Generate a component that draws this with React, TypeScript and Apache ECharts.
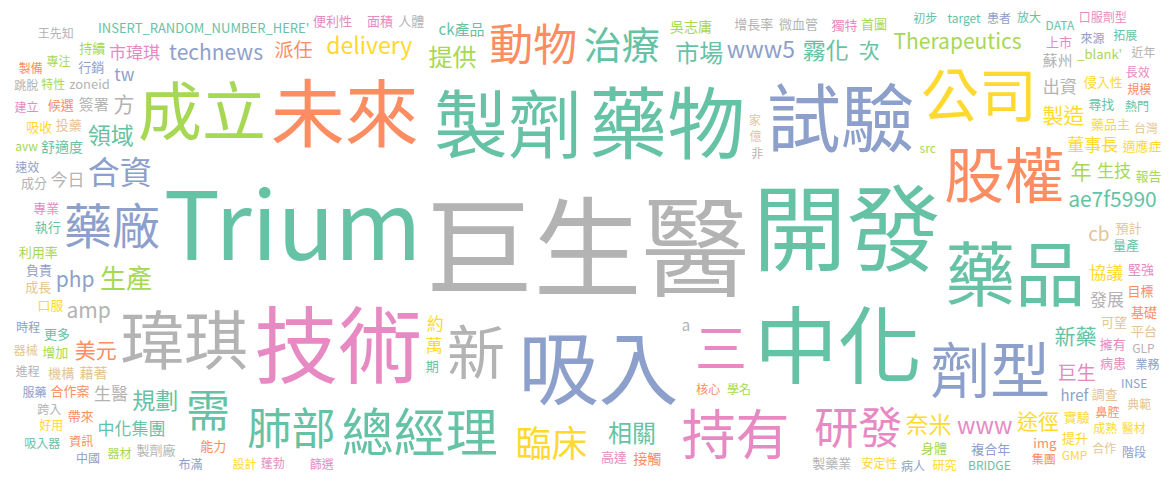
import React, { useEffect, useRef } from "react";
import * as echarts from "echarts";

const G = "#66c2a5", O = "#fc8d62", B = "#8da0cb", P = "#e78ac3", L = "#a6d854", Y = "#ffd92f", T = "#e5c494", S = "#b3b3b3";
const palette = [G, O, B, P, L, Y, T, S];

const bigWords = ["巨生醫","開發","Trium","中化","技術","吸入","藥物","製劑","試驗","未來","藥品","瑋琪","成立","股權","劑型","公司","新","持有","總經理","三","藥廠","需","研發","肺部","動物","治療","臨床","合資"];
const bigSizes = [108,94,94,84,84,80,78,74,74,74,70,64,64,60,60,58,58,54,52,52,48,44,44,44,44,38,36,32];
const bigColors = [S,G,G,G,P,B,G,G,B,O,G,S,L,O,B,Y,S,P,G,P,B,G,P,G,O,G,Y,B];

const midWords = ["生產","提供","相關","市場","規劃","www5","奈米","霧化","delivery","領域","www","technews","Therapeutics","ae7f5990","amp","新藥","製造","美元","途徑","php","年","次","方","派任","巨生","中化集團","董事長","協議","出資","發展","生醫","今日","約","萬","cb","tw","生技","市瑋琪","蘇州","簽署","ck產品","href","a"];
const midSizes = [26,24,24,24,23,23,23,23,23,23,23,21,21,21,21,21,21,21,21,21,21,21,21,19,19,17,17,17,17,17,17,17,17,17,19,17,17,17,15,15,15,15,15];
const midColors = [L,L,G,G,G,B,Y,G,Y,G,P,B,L,G,S,G,Y,O,Y,B,L,G,S,O,P,G,Y,Y,S,S,S,S,Y,Y,T,B,L,P,S,S,G,B,S];

const smallWords = ["INSERT_RANDOM_NUMBER_HERE'","高達","預計","核心","吳志庸","zoneid","速效","安定性","量產","篩選","可望","鼻腔","利用率","增長率","時程","口服","執行","專業","藉著","資訊","特性","GLP","來源","藥品主","更多","擁有","投藥","接觸","學名","非","負責","實驗","尋找","堅強","成長","能力","身體","微血管","行銷","成熟","熱門","病患","器械","目標","src","人體","INSE","侵入性","舒適度","蓬勃","台灣","合作案","增加","成分","複合年","設計","初步","獨特","機構","候選","專注","進程","病人","提升","期","面積","調查","img","器材","跨入","業務","研究","BRIDGE","建立","合作","規模","持續","製藥業","服藥","好用","target","上市","典範","帶來","avw","製劑廠","布滿","GMP","DATA","便利性","億","集團","_blank'","王先知","患者","適應症","吸入器","長效","家","基礎","報告","跳脫","中國","醫材","拓展","口服劑型","平台","製備","首圖","近年","階段","吸收","放大","主成分"];
const smallSizes = [13,13,13,12,14,13,12,12,13,12,13,12,13,13,12,13,13,13,14,12,12,12,12,13,13,13,13,14,12,12,13,13,13,13,13,13,13,13,13,12,12,13,12,13,12,13,12,13,14,12,12,13,13,13,13,12,12,13,13,13,12,12,12,13,13,13,13,13,12,12,12,12,12,12,12,12,13,13,12,12,12,13,12,13,12,13,12,12,12,13,12,12,13,12,12,13,12,12,12,13,13,12,12,12,12,12,13,12,13,12,12,13,12,12];

const FONT = '"Noto Sans CJK TC", "Noto Sans", sans-serif';

type Item = { text: string; size: number; color: string };

function layout(items: Item[], W: number, H: number) {
  const c = document.createElement("canvas").getContext("2d")!;
  const placed: { x: number; y: number; w: number; h: number; it: Item }[] = [];
  const cx = W / 2, cy = H / 2, aspect = W / H;
  const sorted = [...items].sort((a, b) => b.size - a.size);
  sorted.forEach((it, idx) => {
    c.font = `${it.size}px ${FONT}`;
    const w = c.measureText(it.text).width + 3;
    const h = it.size * 1.3;
    const dir = idx % 2 ? 1 : -1;
    for (let t = 0; t < 6000; t += 0.04) {
      const r = 1.2 * t;
      const a = t + idx;
      // rectangular-ish spiral to fill the corners
      const ca = Math.cos(a), sa = Math.sin(a);
      const m = Math.max(Math.abs(ca), Math.abs(sa));
      const x = cx + dir * r * (ca / Math.pow(m, 0.6)) * aspect * 0.5;
      const y = cy + r * (sa / Math.pow(m, 0.6)) * 0.5;
      const x0 = x - w / 2, y0 = y - h / 2;
      if (x0 < 4 || y0 < 0 || x0 + w > W - 4 || y0 + h > H) {
        if (r > W * 1.6) break;
        continue;
      }
      let ok = true;
      for (const p of placed) {
        if (x0 < p.x + p.w && x0 + w > p.x && y0 < p.y + p.h && y0 + h > p.y) { ok = false; break; }
      }
      if (ok) { placed.push({ x: x0, y: y0, w, h, it }); break; }
    }
  });
  return placed;
}

export default function App() {
  const ref = useRef<HTMLDivElement>(null);
  useEffect(() => {
    const el = ref.current!;
    const chart = echarts.init(el, null, { renderer: "svg" });
    const items: Item[] = [];
    bigWords.forEach((t, i) => items.push({ text: t, size: bigSizes[i], color: bigColors[i] }));
    midWords.forEach((t, i) => items.push({ text: t, size: midSizes[i], color: midColors[i] }));
    smallWords.forEach((t, i) => items.push({ text: t, size: smallSizes[i], color: palette[(i * 3) % 8] }));
    const W = el.clientWidth, H = el.clientHeight;
    const placed = layout(items, W, H);
    chart.setOption({
      animation: false,
      backgroundColor: "#fff",
      graphic: placed.map((p) => ({
        type: "text",
        x: p.x + p.w / 2,
        y: p.y + p.h / 2,
        style: {
          text: p.it.text,
          fill: p.it.color,
          font: `${p.it.size}px ${FONT}`,
          align: "center",
          verticalAlign: "middle",
        },
      })),
    });
    return () => chart.dispose();
  }, []);
  return <div ref={ref} style={{ width: "100%", height: 466 }} />;
}
